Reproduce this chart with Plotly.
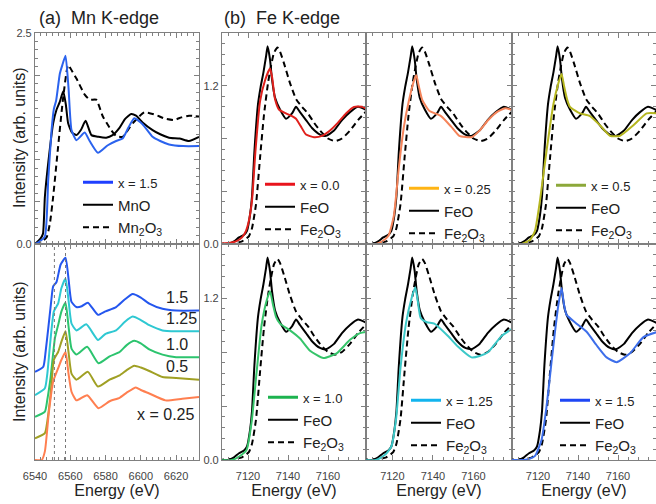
import plotly.graph_objects as go

FONT = "Liberation Sans, Arial, Helvetica, sans-serif"

# ---------------- Mn K-edge, top panel ----------------
mn_top_E_x15 = [6540, 6542, 6545.6, 6547.5, 6549.4, 6550.7, 6552, 6554.1, 6555.5, 6557.3, 6559, 6560.7, 6563.5,
                6568.2, 6571, 6575.7, 6581.3, 6586, 6589.7, 6593, 6596.3, 6601, 6606.7, 6611, 6616, 6624, 6633]
mn_top_I_x15 = [0.0, 0.02, 0.09, 0.76, 1.35, 1.60, 1.70, 2.02, 2.12, 2.23, 1.85, 1.35, 1.23,
                1.32, 1.22, 1.08, 1.17, 1.22, 1.25, 1.38, 1.49, 1.42, 1.27, 1.22, 1.18, 1.16, 1.16]

mn_top_E_MnO = [6540, 6543, 6544.5, 6545.6, 6547.5, 6550.3, 6552.2, 6554, 6556, 6557.5, 6558.8, 6561, 6563.5, 6566,
                6568.7, 6572, 6576, 6580.4, 6584, 6588, 6591, 6594.5, 6597.3, 6601, 6606.7, 6611, 6616, 6622, 6627.3, 6633]
mn_top_I_MnO = [0.0, 0.06, 0.12, 0.56, 0.96, 1.43, 1.59, 1.68, 1.81, 1.65, 1.43, 1.32, 1.29, 1.35,
                1.46, 1.29, 1.27, 1.26, 1.29, 1.38, 1.48, 1.54, 1.52, 1.44, 1.35, 1.30, 1.26, 1.25, 1.22, 1.27]

mn_top_E_Mn2O3 = [6540, 6544, 6546.6, 6548.5, 6550.3, 6553.1, 6556, 6558.8, 6561, 6563.5, 6568.2, 6571, 6574.7,
                  6578.5, 6583.2, 6586, 6589.7, 6595.4, 6602, 6608.5, 6613, 6618.9, 6623, 6627.3, 6633]
mn_top_I_Mn2O3 = [0.0, 0.03, 0.08, 0.25, 0.56, 1.15, 1.74, 2.12, 2.05, 1.96, 1.77, 1.71, 1.71,
                  1.51, 1.35, 1.28, 1.27, 1.43, 1.56, 1.53, 1.49, 1.47, 1.50, 1.52, 1.51]

# ---------------- Mn K-edge, bottom panel (stacked) ----------------
mn_stack_labels = ["1.5", "1.25", "1.0", "0.5", "x = 0.25"]
mn_stack_colors = ["#2456EE", "#2EC8D2", "#2CC46E", "#A0A024", "#FF7F50"]
mn_stack_E = [
    [6540, 6544.7, 6546, 6547.5, 6549, 6550.3, 6552.2, 6554.5, 6557.3, 6559, 6560.7, 6563.5, 6566.5, 6570,
     6575.7, 6580, 6586, 6591, 6595.4, 6600, 6604.8, 6612.3, 6620, 6633],
    [6540, 6545.6, 6547, 6548.5, 6550.7, 6553.1, 6555, 6557.3, 6559, 6560.7, 6563.5, 6569.1, 6575.7, 6580,
     6586, 6591, 6595.4, 6600, 6604.8, 6612.3, 6620, 6633],
    [6540, 6545.6, 6547, 6548.8, 6551.3, 6553.1, 6555, 6557.3, 6559, 6560.7, 6563.5, 6569.6, 6576, 6582.3,
     6588, 6592, 6596.3, 6600, 6604.8, 6612.3, 6620, 6633],
    [6540, 6545.6, 6547, 6548.8, 6550.7, 6553.1, 6555, 6557.3, 6559, 6560.7, 6563.5, 6570, 6575.7, 6582.3,
     6588, 6592, 6596.3, 6600, 6604.8, 6612.3, 6620, 6633],
    [6540, 6543.8, 6545.6, 6547.9, 6550.3, 6553.1, 6555, 6557.3, 6559, 6560.7, 6563.5, 6569.6, 6576, 6582.3,
     6588, 6592, 6597.2, 6600, 6604.8, 6614, 6623.5, 6633],
]
mn_stack_I = [
    [1.02, 1.08, 1.25, 1.52, 1.80, 2.01, 2.06, 2.26, 2.34, 2.10, 1.83, 1.77, 1.78, 1.82,
     1.68, 1.72, 1.77, 1.86, 1.92, 1.88, 1.81, 1.75, 1.73, 1.73],
    [0.75, 0.83, 1.00, 1.33, 1.72, 1.81, 1.99, 2.10, 1.85, 1.58, 1.50, 1.57, 1.39, 1.46,
     1.50, 1.60, 1.66, 1.62, 1.56, 1.50, 1.49, 1.49],
    [0.50, 0.56, 0.70, 0.95, 1.41, 1.56, 1.72, 1.82, 1.55, 1.29, 1.22, 1.31, 1.12, 1.20,
     1.25, 1.33, 1.38, 1.35, 1.28, 1.22, 1.19, 1.19],
    [0.25, 0.31, 0.45, 0.75, 1.16, 1.25, 1.37, 1.49, 1.25, 1.00, 0.93, 1.02, 0.85, 0.93,
     0.98, 1.04, 1.09, 1.07, 1.03, 0.96, 0.95, 0.93],
    [0.0, 0.0, 0.10, 0.56, 0.91, 1.06, 1.16, 1.25, 1.00, 0.79, 0.69, 0.75, 0.60, 0.68,
     0.72, 0.78, 0.84, 0.81, 0.77, 0.69, 0.71, 0.73],
]
mn_ref_lines = [6551.0, 6557.3]

# ---------------- Fe K-edge references ----------------
fe_E_FeO = [7105, 7110, 7113, 7115.5, 7118, 7119.5, 7121, 7122, 7123.2, 7125, 7126.3, 7127.7, 7129, 7129.8,
            7131, 7132, 7133.5, 7136, 7139, 7142, 7144, 7146, 7149, 7152, 7156, 7159, 7163, 7167, 7171, 7175, 7180]
fe_I_FeO = [0.0, 0.0, 0.02, 0.05, 0.07, 0.10, 0.22, 0.36, 0.70, 1.06, 1.19, 1.30, 1.42, 1.50,
            1.40, 1.25, 1.11, 1.02, 0.95, 0.99, 1.04, 1.00, 0.94, 0.88, 0.83, 0.82, 0.86, 0.94, 1.00, 1.04, 1.01]

fe_E_Fe2O3 = [7105, 7114, 7117, 7119, 7120.5, 7122, 7124, 7126, 7128, 7130, 7131.5, 7133, 7134.7, 7136, 7138,
              7141, 7144, 7147, 7150, 7153, 7156, 7160, 7163.5, 7167, 7171, 7175, 7180]
fe_I_Fe2O3 = [0.0, 0.01, 0.02, 0.04, 0.06, 0.12, 0.30, 0.65, 0.98, 1.22, 1.35, 1.45, 1.49, 1.46, 1.37,
              1.22, 1.10, 1.04, 0.99, 0.92, 0.86, 0.80, 0.78, 0.80, 0.86, 0.94, 1.02]

# ---------------- Fe K-edge samples ----------------
fe_labels = ["x = 0.0", "x = 0.25", "x = 0.5", "x = 1.0", "x = 1.25", "x = 1.5"]
fe_curve_colors = ["#E0201C", "#F5845A", "#B5B620", "#36C46A", "#3CC8C8", "#3D6EEA"]
fe_legend_colors = ["#E8141C", "#FFB414", "#8CA83A", "#1DB34F", "#12B4EE", "#1E46F5"]
fe_E = [
    [7105, 7111, 7114, 7117, 7119, 7120.5, 7122, 7123.7, 7126, 7128.5, 7131, 7132, 7133.5, 7135.5, 7139, 7142,
     7144, 7146.5, 7149, 7153, 7157, 7161, 7165, 7169, 7173, 7177, 7180],
    [7105, 7112, 7115, 7118, 7120.7, 7123.2, 7125.7, 7128.2, 7130.7, 7131.8, 7133, 7134.8, 7138.2, 7144, 7149,
     7153, 7159, 7163, 7167.3, 7171.5, 7175.7, 7180],
    [7105, 7112, 7116, 7118.5, 7121, 7124.3, 7127.7, 7130.2, 7131.8, 7133, 7134.5, 7136, 7141, 7146, 7151,
     7156, 7161, 7167.7, 7174.3, 7180],
    [7105, 7112, 7116, 7119.3, 7121.8, 7124.3, 7126.8, 7129.3, 7131, 7132.5, 7134, 7136, 7141, 7146, 7151,
     7157.7, 7164.3, 7171, 7176, 7180],
    [7105, 7112, 7116.5, 7119.5, 7121.8, 7124, 7126.8, 7129.5, 7131.3, 7132.5, 7134, 7137, 7140.7, 7147.3,
     7152.3, 7159, 7163, 7167.3, 7174, 7180],
    [7105, 7113, 7116, 7118.5, 7121.8, 7124.3, 7126.8, 7128.5, 7130.2, 7131.8, 7133, 7134.3, 7139.3, 7144.3,
     7149.3, 7154.3, 7159.3, 7166, 7172.7, 7180],
]
fe_I = [
    [0.0, 0.01, 0.02, 0.05, 0.10, 0.18, 0.33, 0.70, 1.08, 1.24, 1.33, 1.27, 1.10, 1.02, 0.99, 0.97,
     0.95, 0.89, 0.83, 0.81, 0.82, 0.86, 0.92, 0.99, 1.04, 1.04, 1.02],
    [0.0, 0.0, 0.02, 0.06, 0.21, 0.58, 0.89, 1.09, 1.24, 1.28, 1.20, 1.09, 1.01, 0.97, 0.89,
     0.82, 0.81, 0.86, 0.94, 1.00, 1.03, 1.01],
    [0.0, 0.0, 0.03, 0.10, 0.33, 0.71, 1.06, 1.22, 1.29, 1.20, 1.10, 1.04, 0.99, 0.97, 0.90,
     0.82, 0.82, 0.90, 0.99, 0.99],
    [0.0, 0.0, 0.03, 0.075, 0.28, 0.65, 1.00, 1.18, 1.25, 1.15, 1.06, 1.01, 0.96, 0.90, 0.81,
     0.755, 0.79, 0.89, 0.94, 0.95],
    [0.0, 0.0, 0.04, 0.10, 0.30, 0.68, 1.02, 1.20, 1.28, 1.18, 1.05, 1.02, 1.01, 0.92,
     0.84, 0.76, 0.77, 0.80, 0.92, 0.98],
    [0.0, 0.0, 0.01, 0.03, 0.15, 0.40, 0.73, 0.95, 1.15, 1.275, 1.15, 1.075, 1.01, 0.95,
     0.85, 0.76, 0.725, 0.79, 0.91, 0.95],
]

# ---------------- geometry helpers (pixels -> paper) ----------------
L, T, W, H = 35, 33, 621, 427


def px2x(px):
    return (px - L) / W


def py2y(py):
    return (T + H - py) / H


col_dom = {1: [0.0, px2x(199)], 2: [px2x(222), px2x(366)], 3: [px2x(366), px2x(512)], 4: [px2x(512), 1.0]}
row_dom = {1: [py2y(244), 1.0], 2: [0.0, py2y(244)]}

AX = "#808080"
TICKFONT = dict(family=FONT, size=11, color="#444444")

fig = go.Figure()
layout = dict(
    width=656, height=504, margin=dict(l=L, r=0, t=T, b=504 - T - H),
    paper_bgcolor="white", plot_bgcolor="white", font=dict(family=FONT, color="black"),
    showlegend=True,
)

for i in range(1, 9):
    row = 1 if i <= 4 else 2
    col = (i - 1) % 4 + 1
    xa = dict(domain=col_dom[col], anchor=f"y{i}", showgrid=False, zeroline=False,
              showline=True, linecolor=AX, linewidth=1.2, mirror="ticks",
              ticks="inside", ticklen=5, tickcolor=AX, tickwidth=1,
              tickfont=TICKFONT, showticklabels=(row == 2), ticklabelstandoff=6)
    ya = dict(domain=row_dom[row], anchor=f"x{i}", showgrid=False, zeroline=False,
              showline=True, linecolor=AX, linewidth=1.2, mirror="ticks",
              ticks="inside", ticklen=5, tickcolor=AX, tickwidth=1, tickfont=TICKFONT)
    if col == 1:
        xa.update(range=[6540, 6633], tick0=6540, dtick=20,
                  minor=dict(dtick=20 / 6, tick0=6540, ticks="inside", ticklen=3, tickcolor=AX))
        if row == 1:
            ya.update(range=[0, 2.5], tickmode="array", tickvals=[0, 0.5, 1.0, 1.5, 2.0, 2.5],
                      ticktext=["0.0", "", "", "", "", "2.5"],
                      minor=dict(dtick=0.1, tick0=0, ticks="inside", ticklen=3, tickcolor=AX))
        else:
            ya.update(range=[0, 2.5], ticks="", showticklabels=False)
    else:
        xa.update(range=[7107, 7179], tick0=7100, dtick=20,
                  minor=dict(dtick=5, tick0=7100, ticks="inside", ticklen=3, tickcolor=AX))
        ya.update(range=[0, 1.6], tickmode="array", tickvals=[0, 0.4, 0.8, 1.2, 1.6],
                  ticktext=["0.0", "", "", "1.2", ""], showticklabels=(col == 2),
                  minor=dict(dtick=0.08, tick0=0, ticks="inside", ticklen=3, tickcolor=AX))
    if row == 2:
        xa.update(title=dict(text="Energy (eV)", font=dict(family=FONT, size=16, color="#222"), standoff=1))
    layout[f"xaxis{i}"] = xa
    layout[f"yaxis{i}"] = ya

SMALL = "<span style='font-size:13px'>{}</span>"
line_kw = dict(shape="spline", smoothing=0.5)

# ---- Mn top ----
fig.add_trace(go.Scatter(x=mn_top_E_MnO, y=mn_top_I_MnO, mode="lines", xaxis="x1", yaxis="y1",
                         line=dict(color="black", width=2, **line_kw), name="MnO",
                         legend="legend", legendrank=2))
fig.add_trace(go.Scatter(x=mn_top_E_Mn2O3, y=mn_top_I_Mn2O3, mode="lines", xaxis="x1", yaxis="y1",
                         line=dict(color="black", width=2, dash="6px,4px", **line_kw),
                         name="Mn<sub>2</sub>O<sub>3</sub>", legend="legend", legendrank=3))
fig.add_trace(go.Scatter(x=mn_top_E_x15, y=mn_top_I_x15, mode="lines", xaxis="x1", yaxis="y1",
                         line=dict(color="#2B63EE", width=2, **line_kw), showlegend=False))
fig.add_trace(go.Scatter(x=[None], y=[None], mode="lines", xaxis="x1", yaxis="y1",
                         line=dict(color="#1F3FFF", width=3), name=SMALL.format("x = 1.5"),
                         legend="legend", legendrank=1))

# ---- Mn bottom (stacked) ----
for Es, Is, c in zip(mn_stack_E, mn_stack_I, mn_stack_colors):
    fig.add_trace(go.Scatter(x=Es, y=Is, mode="lines", xaxis="x5", yaxis="y5",
                             line=dict(color=c, width=2, **line_kw), showlegend=False))
annotations = []
for k, (lab, Es, Is) in enumerate(zip(mn_stack_labels, mn_stack_E, mn_stack_I)):
    if lab.startswith("x"):
        annotations.append(dict(x=6631.5, y=Is[-1] - 0.08, xref="x5", yref="y5", text=lab,
                                xanchor="right", yanchor="top", showarrow=False,
                                font=dict(family=FONT, size=16, color="#222")))
    else:
        annotations.append(dict(x=6613, y=Is[-1] + 0.03, xref="x5", yref="y5", text=lab,
                                xanchor="left", yanchor="bottom", showarrow=False,
                                font=dict(family=FONT, size=16, color="#222")))

shapes = []
for e in mn_ref_lines:
    shapes.append(dict(type="line", xref="x5", yref="y5 domain", x0=e, x1=e, y0=0, y1=1,
                       line=dict(color="#777777", width=1, dash="dot")))

# ---- Fe panels ----
fe_axes = [2, 3, 4, 6, 7, 8]
for k, ax in enumerate(fe_axes):
    lg = f"legend{k + 2}"
    fig.add_trace(go.Scatter(x=fe_E_FeO, y=fe_I_FeO, mode="lines", xaxis=f"x{ax}", yaxis=f"y{ax}",
                             line=dict(color="black", width=2, **line_kw), name="FeO",
                             legend=lg, legendrank=2))
    fig.add_trace(go.Scatter(x=fe_E_Fe2O3, y=fe_I_Fe2O3, mode="lines", xaxis=f"x{ax}", yaxis=f"y{ax}",
                             line=dict(color="black", width=2, dash="6px,4px", **line_kw),
                             name="Fe<sub>2</sub>O<sub>3</sub>", legend=lg, legendrank=3))
    fig.add_trace(go.Scatter(x=fe_E[k], y=fe_I[k], mode="lines", xaxis=f"x{ax}", yaxis=f"y{ax}",
                             line=dict(color=fe_curve_colors[k], width=2, **line_kw), showlegend=False))
    fig.add_trace(go.Scatter(x=[None], y=[None], mode="lines", xaxis=f"x{ax}", yaxis=f"y{ax}",
                             line=dict(color=fe_legend_colors[k], width=3),
                             name=SMALL.format(fe_labels[k]), legend=lg, legendrank=1))

# legend placement: (text start px, first row centre py)
legend_pos = [(120, 182), (302, 184), (446, 188), (593, 185), (305, 397), (448, 400), (597, 400)]
for k, (tx, ty) in enumerate(legend_pos):
    key = "legend" if k == 0 else f"legend{k + 1}"
    layout[key] = dict(x=px2x(tx - 42), y=py2y(ty - 16), xanchor="left", yanchor="top",
                       bgcolor="rgba(0,0,0,0)", borderwidth=0, tracegroupgap=0,
                       itemwidth=30, traceorder="normal",
                       font=dict(family=FONT, size=15, color="#222"))

# titles
annotations.append(dict(x=px2x(37), y=py2y(18), xref="paper", yref="paper", text="(a)  Mn K-edge",
                        xanchor="left", yanchor="middle", showarrow=False,
                        font=dict(family=FONT, size=18, color="#222")))
annotations.append(dict(x=px2x(222), y=py2y(18), xref="paper", yref="paper", text="(b)  Fe K-edge",
                        xanchor="left", yanchor="middle", showarrow=False,
                        font=dict(family=FONT, size=18, color="#222")))
# y-axis titles
for yc in (py2y(138), py2y(352)):
    annotations.append(dict(x=px2x(19), y=yc, xref="paper", yref="paper", text="Intensity (arb. units)",
                            textangle=-90, xanchor="center", yanchor="middle", showarrow=False,
                            font=dict(family=FONT, size=16, color="#222")))

layout["annotations"] = annotations
layout["shapes"] = shapes
fig.update_layout(**layout)
fig.write_html("out.html")
